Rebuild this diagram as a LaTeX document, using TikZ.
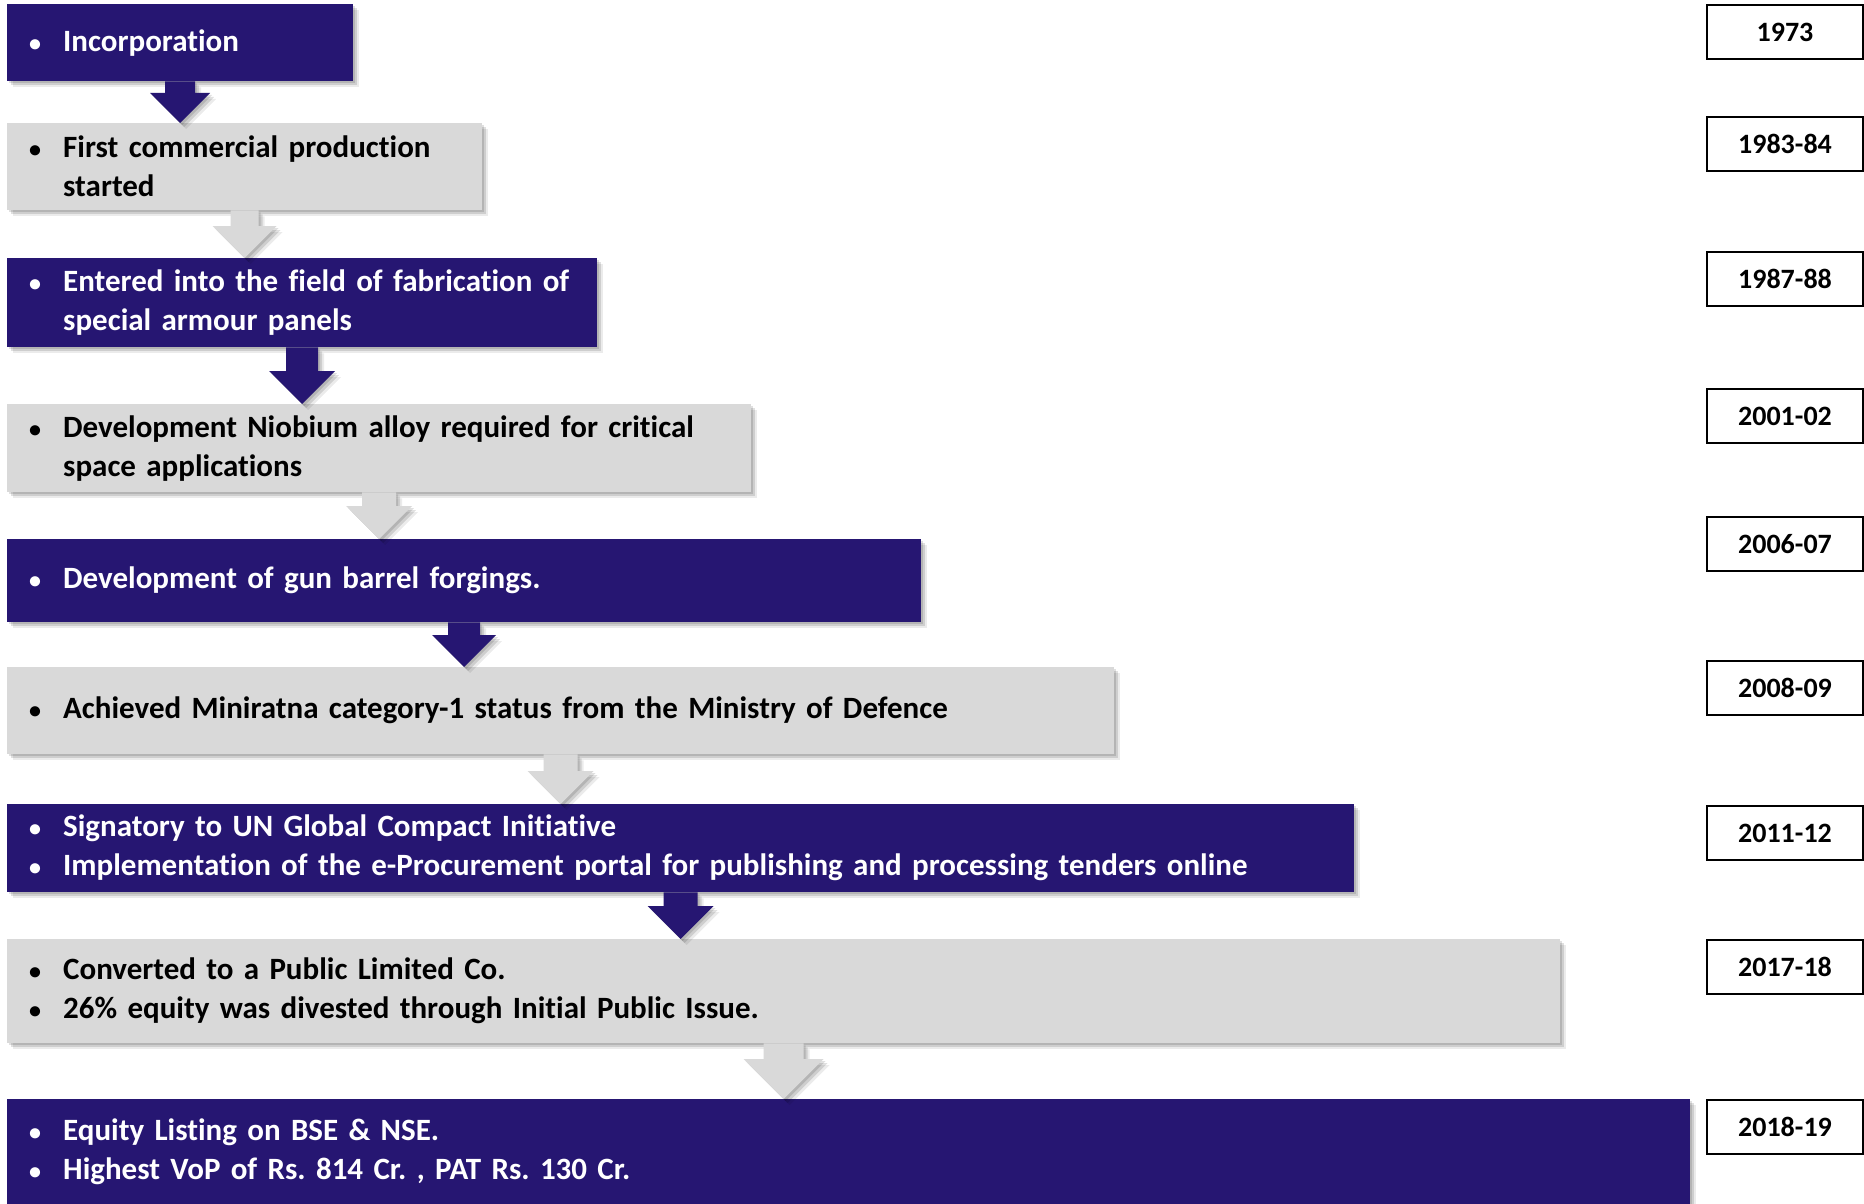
\documentclass[tikz,border=0pt]{standalone}
\usepackage{fontspec}
\setmainfont{Carlito}[Ligatures=NoCommon]
\usetikzlibrary{shadows,calc}
\frenchspacing

\definecolor{navy}{RGB}{38,22,114}
\definecolor{pale}{RGB}{217,217,217}

\newcommand{\bul}{\makebox[36pt][l]{\hspace*{2pt}\fontsize{24}{24}\selectfont\textbullet}}
\newcommand{\ind}{\hspace*{36pt}}
% block arrow: from, to, colour, shaft half width, head half width
\newcommand{\flowarrow}[5]{%
  \fill[#3, softshadow] ($(#1.south)+(-#4,0)$) -- ($(#1.south |- #2.north)+(-#4,-#5)$)
    -- ($(#1.south |- #2.north)+(-#5,-#5)$) -- (#1.south |- #2.north)
    -- ($(#1.south |- #2.north)+(#5,-#5)$) -- ($(#1.south |- #2.north)+(#4,-#5)$)
    -- ($(#1.south)+(#4,0)$) -- cycle;}

\tikzset{
  softshadow/.style={
    drop shadow={shadow xshift=2pt, shadow yshift=-2pt, opacity=.12, fill=black},
    drop shadow={shadow xshift=4pt, shadow yshift=-4pt, opacity=.12, fill=black},
    drop shadow={shadow xshift=6pt, shadow yshift=-6pt, opacity=.08, fill=black}},
  event/.style={anchor=north west, inner xsep=20pt, inner ysep=0pt, align=left,
    font=\fontsize{31}{39}\selectfont\bfseries, softshadow},
  darkevent/.style={event, fill=navy, text=white},
  lightevent/.style={event, fill=pale, text=black},
  yearbox/.style={draw=black, line width=2pt, anchor=north west, inner sep=0pt,
    minimum width=156pt, minimum height=54pt, font=\fontsize{28}{34}\selectfont\bfseries}
}

\begin{document}
\begin{tikzpicture}[x=1pt, y=-1pt]
  \useasboundingbox[fill=white] (0,0) rectangle (1864,1204);

  % Milestone boxes
  \node[darkevent, text width=306pt, minimum height=77pt] (e1973) at (7,4)
    {\bul Incorporation};
  \node[lightevent, text width=435pt, minimum height=87pt] (e1983) at (7,123)
    {\bul First commercial production\\\ind started};
  \node[darkevent, text width=550pt, minimum height=89pt] (e1987) at (7,258)
    {\bul Entered into the field of fabrication of\\\ind special armour panels};
  \node[lightevent, text width=704pt, minimum height=88pt] (e2001) at (7,404)
    {\bul Development Niobium alloy required for critical\\\ind space applications};
  \node[darkevent, text width=874pt, minimum height=83pt] (e2006) at (7,539)
    {\bul Development of gun barrel forgings.};
  \node[lightevent, text width=1067pt, minimum height=87pt] (e2008) at (7,667)
    {\bul Achieved Miniratna category-1 status from the Ministry of Defence};
  \node[darkevent, text width=1307pt, minimum height=88pt] (e2011) at (7,804)
    {\bul Signatory to UN Global Compact Initiative\\
     \bul Implementation of the e-Procurement portal for publishing and processing tenders online};
  \node[lightevent, text width=1513pt, minimum height=104pt] (e2017) at (7,939)
    {\bul Converted to a Public Limited Co.\\
     \bul 26\% equity was divested through Initial Public Issue.};
  \node[darkevent, text width=1643pt, minimum height=106pt] (e2018) at (7,1099)
    {\bul Equity Listing on BSE \& NSE.\\
     \bul Highest VoP of Rs. 814 Cr. , PAT Rs. 130 Cr.};

  % Arrows between milestones
  \flowarrow{e1973}{e1983}{navy}{15}{30}
  \flowarrow{e1983}{e1987}{pale}{14}{32}
  \flowarrow{e1987}{e2001}{navy}{16}{33}
  \flowarrow{e2001}{e2006}{pale}{17}{33}
  \flowarrow{e2006}{e2008}{navy}{16}{32}
  \flowarrow{e2008}{e2011}{pale}{17}{33}
  \flowarrow{e2011}{e2017}{navy}{17}{33}
  \flowarrow{e2017}{e2018}{pale}{20}{40}

  % Year labels
  \foreach \yr/\top in {1973/4, 1983-84/116, 1987-88/251, 2001-02/388, 2006-07/516,
                        2008-09/660, 2011-12/805, 2017-18/939, 2018-19/1099}
    \node[yearbox] (yr\yr) at (1706,\top) {\yr};

\end{tikzpicture}
\end{document}
